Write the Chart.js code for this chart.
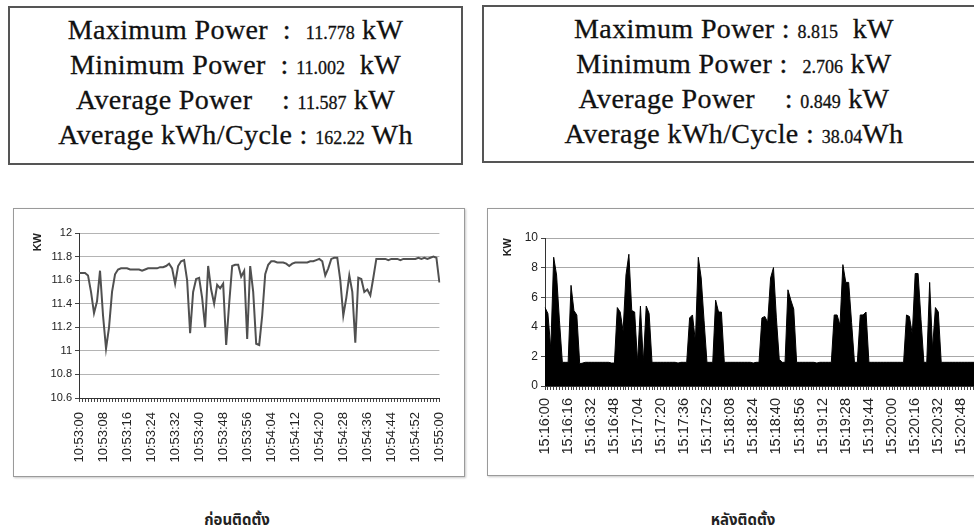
<!DOCTYPE html>
<html>
<head>
<meta charset="utf-8">
<title>Power before / after installation</title>
<script src="https://cdn.jsdelivr.net/npm/chart.js@4.4.1/dist/chart.umd.min.js"></script>
<style>
    body { margin: 0; width: 974px; height: 529px; overflow: hidden; position: relative; background: #fff; }
    .stats {
        position: absolute; box-sizing: border-box; border: 2px solid #555;
        text-align: center; color: #111; font-family: "Liberation Serif", serif;
        font-size: 28px; line-height: 35px; letter-spacing: 0.4px; white-space: pre;
        -webkit-text-stroke: 0.3px #111;
    }
    .stats .v { font-size: 18px; letter-spacing: 0; line-height: 0; }
    .frame {
        position: absolute; box-sizing: border-box; border: 1.5px solid #9a9a9a;
        box-shadow: 1px 1px 2px #c8c8c8; pointer-events: none;
    }
    canvas { position: absolute; }
    .caption {
        position: absolute; top: 509px; width: 200px; text-align: center;
        font: bold 15px "Noto Sans Thai", "Noto Sans", "DejaVu Sans", sans-serif; color: #222;
    }
</style>
</head>
<body>

<div class="stats" style="left:8px; top:6px; width:455px; height:159px; padding-top:4px;">Maximum Power  :  <span class="v">11.778</span> kW
Minimum Power  : <span class="v">11.002</span>  kW
Average Power    : <span class="v">11.587</span> kW
Average kWh/Cycle : <span class="v">162.22</span> Wh</div>

<div class="stats" style="left:482px; top:5px; width:504px; height:158px; padding-top:4px;">Maximum Power : <span class="v">8.815</span>  kW
Minimum Power :  <span class="v">2.706</span> kW
Average Power    : <span class="v">0.849</span> kW
Average kWh/Cycle : <span class="v">38.04</span>Wh</div>

<canvas id="beforeChart" width="452" height="269" style="left:13px; top:208px;"></canvas>
<div class="frame" style="left:13px; top:208px; width:452px; height:269px;"></div>

<canvas id="afterChart" width="523" height="268" style="left:487px; top:208px;"></canvas>
<div class="frame" style="left:487px; top:208px; width:523px; height:268px;"></div>

<div class="caption" style="left:137px;">ก่อนติดตั้ง</div>
<div class="caption" style="left:643px;">หลังติดตั้ง</div>

<script>
// ----------------------------
// 1. Data
// ----------------------------

// before installation: one reading per second, 10:53:00 - 10:55:00 (kW)
const beforePower = [
    11.66, 11.66, 11.66, 11.64, 11.50, 11.32, 11.42, 11.68, 11.30, 11.02,
    11.20, 11.50, 11.65, 11.69, 11.70, 11.70, 11.70, 11.69, 11.69, 11.69,
    11.69, 11.68, 11.69, 11.70, 11.70, 11.70, 11.70, 11.71, 11.71, 11.72,
    11.74, 11.70, 11.57, 11.72, 11.76, 11.77, 11.60, 11.15, 11.50, 11.61,
    11.62, 11.45, 11.20, 11.72, 11.52, 11.40, 11.56, 11.53, 11.57, 11.05,
    11.40, 11.72, 11.73, 11.73, 11.63, 11.68, 11.10, 11.72, 11.50, 11.06,
    11.05, 11.30, 11.65, 11.73, 11.76, 11.76, 11.75, 11.75, 11.75, 11.74,
    11.72, 11.74, 11.75, 11.75, 11.75, 11.75, 11.75, 11.76, 11.76, 11.77,
    11.78, 11.76, 11.64, 11.70, 11.78, 11.79, 11.79, 11.60, 11.30, 11.45,
    11.64, 11.50, 11.07, 11.62, 11.61, 11.50, 11.52, 11.47, 11.62, 11.78,
    11.78, 11.78, 11.78, 11.77, 11.78, 11.78, 11.78, 11.77, 11.78, 11.78,
    11.78, 11.78, 11.78, 11.79, 11.78, 11.79, 11.78, 11.79, 11.80, 11.79,
    11.58
];

// after installation: one reading every 2 seconds, from 15:16:00 (kW)
const afterPower = [
    5.3, 4.9, 2.5, 8.7, 7.5, 4.4, 1.6, 1.6, 1.6, 6.8,
    5.1, 4.8, 1.5, 1.55, 1.6, 1.6, 1.6, 1.6, 1.6, 1.6,
    1.6, 1.6, 1.6, 1.55, 1.55, 5.3, 5.0, 3.7, 7.5, 8.9,
    5.1, 5.0, 1.6, 5.4, 1.6, 5.4, 4.9, 1.6, 1.6, 1.6,
    1.6, 1.6, 1.6, 1.6, 1.6, 1.6, 1.55, 1.6, 1.6, 1.6,
    4.6, 4.8, 3.0, 8.7, 7.3, 4.4, 1.6, 1.6, 1.6, 5.8,
    5.0, 5.0, 1.6, 1.6, 1.6, 1.6, 1.6, 1.6, 1.6, 1.6,
    1.6, 1.6, 1.55, 1.6, 1.6, 4.6, 4.7, 4.3, 7.3, 8.0,
    4.6, 1.8, 1.6, 1.6, 6.5, 5.8, 5.2, 1.6, 1.6, 1.6,
    1.6, 1.6, 1.6, 1.6, 1.55, 1.6, 1.6, 1.6, 1.6, 1.6,
    4.8, 4.8, 4.1, 8.2, 7.0, 7.0, 4.3, 1.6, 1.6, 4.8,
    4.8, 5.0, 1.6, 1.6, 1.6, 1.6, 1.6, 1.6, 1.6, 1.6,
    1.6, 1.6, 1.6, 1.6, 1.6, 4.8, 4.7, 3.5, 7.6, 7.6,
    4.5, 1.6, 1.6, 7.0, 2.5, 5.3, 5.0, 1.6, 1.6, 1.6,
    1.6, 1.6, 1.6, 1.6, 1.6, 1.6, 1.6, 1.6, 1.6, 1.6,
    1.6, 1.6, 1.6
];

// tick labels printed on the axes
const beforeTicks = [
    '10:53:00', '10:53:08', '10:53:16', '10:53:24', '10:53:32', '10:53:40',
    '10:53:48', '10:53:56', '10:54:04', '10:54:12', '10:54:20', '10:54:28',
    '10:54:36', '10:54:44', '10:54:52', '10:55:00'
];
const afterTicks = [
    '15:16:00', '15:16:16', '15:16:32', '15:16:48', '15:17:04', '15:17:20',
    '15:17:36', '15:17:52', '15:18:08', '15:18:24', '15:18:40', '15:18:56',
    '15:19:12', '15:19:28', '15:19:44', '15:20:00', '15:20:16', '15:20:32',
    '15:20:48', '15:21:04'
];
const beforeYTicks = [10.6, 10.8, 11, 11.2, 11.4, 11.6, 11.8, 12];
const afterYTicks = [0, 2, 4, 6, 8, 10];

// ----------------------------
// 2. Helpers
// ----------------------------
function timeLabels(start, count, step) {
    const p = start.split(':').map(Number);
    let secs = p[0] * 3600 + p[1] * 60 + p[2];
    const out = [];
    for (let i = 0; i < count; i++) {
        const h = Math.floor(secs / 3600), m = Math.floor(secs / 60) % 60, s = secs % 60;
        out.push([h, m, s].map(n => String(n).padStart(2, '0')).join(':'));
        secs += step;
    }
    return out;
}

function buildChart(id, cfg) {
    const ctx = document.getElementById(id).getContext('2d');
    return new Chart(ctx, {
        type: 'line',
        data: {
            labels: cfg.labels,
            datasets: [{
                data: cfg.values,
                borderColor: cfg.lineColor,
                borderWidth: cfg.lineWidth,
                backgroundColor: cfg.fillColor,
                fill: cfg.fill,
                pointRadius: 0,
                tension: 0
            }]
        },
        options: {
            responsive: false,
            animation: false,
            layout: { padding: cfg.padding },
            plugins: { legend: { display: false }, tooltip: { enabled: false } },
            scales: {
                x: {
                    afterFit: s => { s.height = cfg.xHeight; },
                    border: { display: true, color: '#333', width: 1 },
                    grid: { drawOnChartArea: false, drawTicks: true, tickLength: 4, color: '#444' },
                    ticks: {
                        autoSkip: false, minRotation: 90, maxRotation: 90,
                        padding: cfg.xPad, color: '#222',
                        font: { family: 'Liberation Sans', size: cfg.xFont },
                        callback: function (value) {
                            const lab = this.getLabelForValue(value);
                            return cfg.ticks.includes(lab) ? lab : '';
                        }
                    }
                },
                y: {
                    min: cfg.yTicks[0],
                    max: cfg.yTicks[cfg.yTicks.length - 1],
                    afterFit: s => { s.width = cfg.yWidth; },
                    afterBuildTicks: s => { s.ticks = cfg.yTicks.map(v => ({ value: v })); },
                    border: { display: true, color: '#333', width: 1 },
                    grid: { color: cfg.gridColor, lineWidth: 1, tickLength: 4, tickColor: '#444' },
                    ticks: {
                        padding: 3, color: '#222',
                        font: { family: 'Liberation Sans', size: cfg.yFont },
                        callback: v => String(+v.toFixed(1))
                    },
                    title: {
                        display: true, text: 'KW', align: 'end', color: '#222',
                        font: { family: 'Liberation Sans', size: 11, weight: 'bold' },
                        padding: { top: cfg.titlePad, bottom: 0 }
                    }
                }
            }
        }
    });
}

// ----------------------------
// 3. Draw both charts
// ----------------------------
document.addEventListener('DOMContentLoaded', function () {
    buildChart('beforeChart', {
        labels: timeLabels('10:53:00', beforePower.length, 1),
        values: beforePower,
        ticks: beforeTicks,
        yTicks: beforeYTicks,
        lineColor: '#505050', lineWidth: 2, fillColor: 'transparent', fill: false,
        gridColor: '#b4b4b4',
        padding: { left: 0, right: 18, top: 25, bottom: 0 },
        xHeight: 79, yWidth: 66, xPad: 10, xFont: 13, yFont: 11, titlePad: 18
    });

    buildChart('afterChart', {
        labels: timeLabels('15:16:00', afterPower.length, 2),
        values: afterPower,
        ticks: afterTicks,
        yTicks: afterYTicks,
        lineColor: '#000', lineWidth: 1, fillColor: '#000', fill: 'origin',
        gridColor: '#a8a8a8',
        padding: { left: 0, right: 24, top: 30, bottom: 0 },
        xHeight: 90, yWidth: 58, xPad: 8, xFont: 14.5, yFont: 12, titlePad: 14
    });
});
</script>
</body>
</html>
